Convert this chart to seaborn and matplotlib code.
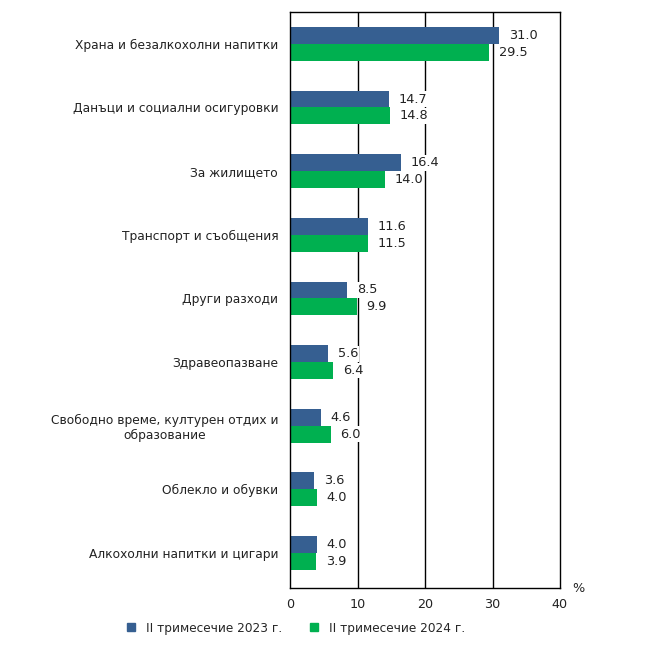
import numpy as np
import pandas as pd
import matplotlib
matplotlib.use('Agg')
import matplotlib.pyplot as plt
import seaborn as sns
from matplotlib.lines import Line2D

# data
categories = [
    'Храна и безалкохолни напитки',
    'Данъци и социални осигуровки',
    'За жилището',
    'Транспорт и съобщения',
    'Други разходи',
    'Здравеопазване',
    'Свободно време, културен отдих и\nобразование',
    'Облекло и обувки',
    'Алкохолни напитки и цигари',
]
vals_2023 = [31.0, 14.7, 16.4, 11.6, 8.5, 5.6, 4.6, 3.6, 4.0]
vals_2024 = [29.5, 14.8, 14.0, 11.5, 9.9, 6.4, 6.0, 4.0, 3.9]
series = ['II тримесечие 2023 г.', 'II тримесечие 2024 г.']
colors = ['#365F91', '#00B050']

df = pd.DataFrame({
    'cat': categories * 2,
    'val': vals_2023 + vals_2024,
    'period': [series[0]] * len(categories) + [series[1]] * len(categories),
})

sns.set_style('white')
plt.rcParams['font.family'] = ['DejaVu Sans']

fig = plt.figure(figsize=(6.66, 6.57), dpi=100)
ax = fig.add_axes([290 / 666, 1 - 588 / 657, 270 / 666, 576 / 657])

sns.barplot(data=df, y='cat', x='val', hue='period', palette=colors,
            orient='h', width=0.53, ax=ax, legend=False, saturation=1,
            linewidth=0)

ax.set_xlim(0, 40)
ax.set_ylim(8.55, -0.5)
ax.set_xticks([0, 10, 20, 30, 40])
ax.set_xlabel('')
ax.set_ylabel('')
ax.tick_params(axis='both', length=0, colors='#222222')
ax.tick_params(axis='x', pad=7, labelsize=9.2)
ax.tick_params(axis='y', pad=8.5, labelsize=8.8)
for lbl in ax.get_yticklabels():
    lbl.set_multialignment('center')

for x in [10, 20, 30]:
    ax.axvline(x, color='black', lw=1, zorder=0)
for s in ax.spines.values():
    s.set_color('black')
    s.set_linewidth(1)

for cont in ax.containers:
    ax.bar_label(cont, fmt='%.1f', padding=7, fontsize=9.3, color='#222222',
                 bbox=dict(facecolor='white', edgecolor='none', pad=1))

ax.text(1.067, 0.0, '%', transform=ax.transAxes, ha='center', va='center',
        fontsize=9.2, color='#222222')

handles = [Line2D([0], [0], marker='s', color='none', markerfacecolor=c,
                  markeredgecolor=c, markersize=5.5) for c in colors]
fig.legend(handles, series, loc='center', bbox_to_anchor=(0.443, 0.044),
           ncol=2, frameon=False, fontsize=8.7, handlelength=1,
           handletextpad=0.7, columnspacing=2.2)

fig.savefig('out.png', dpi=100)
